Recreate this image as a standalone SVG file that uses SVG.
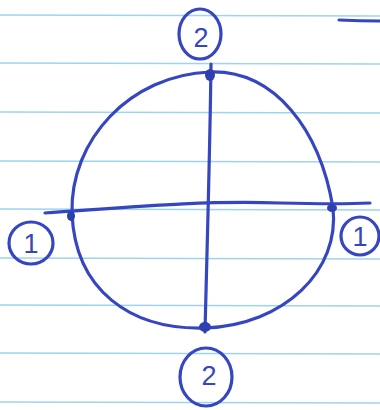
<svg xmlns="http://www.w3.org/2000/svg" width="380" height="410" viewBox="0 0 380 410">
<style>
.rule{stroke:#9fd3ee;stroke-width:1.6}
.pen{fill:none;stroke:#3546c0;stroke-width:3.2;stroke-linecap:round;stroke-linejoin:round}
.dot{fill:#2e3fb0}
.lbl{font-family:"Liberation Sans",Arial,sans-serif;font-size:27px;fill:#3546c0;text-anchor:middle}
</style>
<rect width="380" height="410" fill="#ffffff"/>
<g id="paper">
<line class="rule" x1="0" y1="15" x2="380" y2="16"/>
<line class="rule" x1="0" y1="63" x2="380" y2="64"/>
<line class="rule" x1="0" y1="112" x2="380" y2="113"/>
<line class="rule" x1="0" y1="161" x2="380" y2="162"/>
<line class="rule" x1="0" y1="209" x2="380" y2="210"/>
<line class="rule" x1="0" y1="258" x2="380" y2="259"/>
<line class="rule" x1="0" y1="305" x2="380" y2="306"/>
<line class="rule" x1="0" y1="353" x2="380" y2="354"/>
<line class="rule" x1="0" y1="402" x2="380" y2="403"/>
<path class="pen" d="M339,20 Q360,21 380,21"/>
</g>
<g id="circle">
<path class="pen" d="M210,72 C275,70 320,130 333,208 C340,270 285,325 205,328 C130,330 75,290 72,213 C70,140 130,75 210,72 Z"/>
</g>
<g id="connectors">
<path class="pen" d="M211,64 C210,150 207,250 205,332"/>
<path class="pen" d="M45,213 C120,208 200,200 280,203 C320,204 350,204 370,203"/>
</g>
<g id="points">
<ellipse class="dot" cx="210" cy="75" rx="5" ry="6"/>
<ellipse class="dot" cx="205" cy="327" rx="6" ry="5"/>
<ellipse class="dot" cx="71" cy="216" rx="4" ry="5"/>
<ellipse class="dot" cx="332" cy="208" rx="5" ry="4"/>
</g>
<g id="label-top">
<ellipse class="pen" cx="200" cy="34" rx="21" ry="25"/>
<text class="lbl" x="201" y="47">2</text>
</g>
<g id="label-left">
<ellipse class="pen" cx="31" cy="243" rx="22" ry="21"/>
<text class="lbl" x="31" y="253">1</text>
</g>
<g id="label-right">
<ellipse class="pen" cx="360" cy="236" rx="19" ry="19"/>
<text class="lbl" x="360" y="246">1</text>
</g>
<g id="label-bottom">
<ellipse class="pen" cx="206" cy="377" rx="26" ry="29"/>
<text class="lbl" x="209" y="385">2</text>
</g>
</svg>
